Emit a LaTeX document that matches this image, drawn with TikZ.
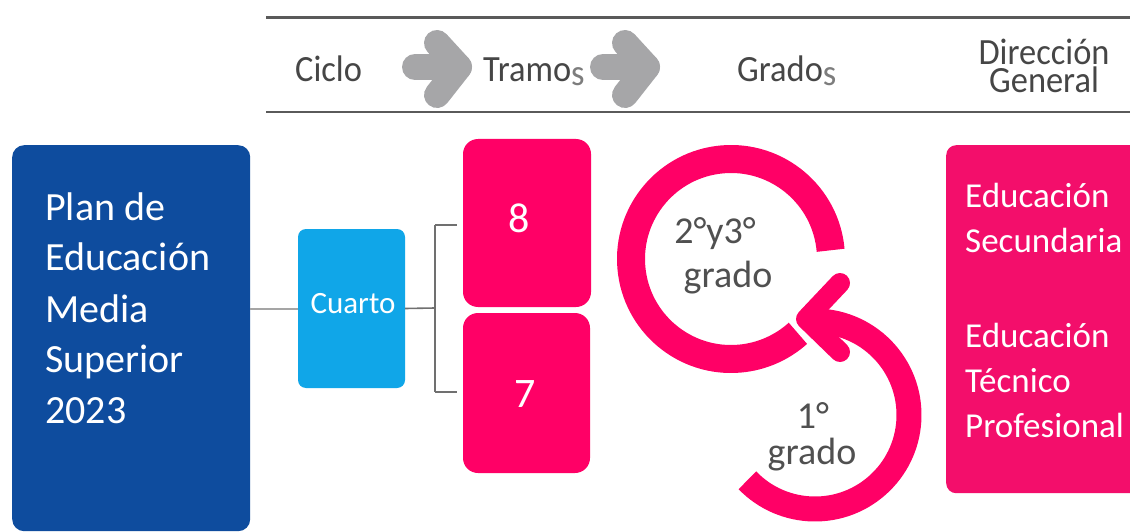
\documentclass[tikz,border=0pt]{standalone}
\usepackage{fontspec}
\usepackage{graphicx}
\setmainfont{Carlito}
\definecolor{navy}{RGB}{14,76,158}
\definecolor{sky}{RGB}{16,166,232}
\definecolor{pinkm}{RGB}{255,0,102}
\definecolor{pinkr}{RGB}{243,14,107}
\definecolor{arrgray}{RGB}{166,166,168}
\definecolor{hdrtxt}{RGB}{70,70,70}
\definecolor{hdrlight}{RGB}{125,125,125}
\definecolor{ringtxt}{RGB}{80,80,80}
\definecolor{rulegray}{RGB}{90,90,90}
\definecolor{linkgray}{RGB}{112,112,112}
\definecolor{linklight}{RGB}{165,165,165}
\newcommand{\hx}[1]{\scalebox{0.93}[1]{#1}}
\begin{document}
\begin{tikzpicture}[x=1pt,y=-1pt,
  hrule/.style={rulegray, line width=2.5pt},
  harrow/.style={arrgray, line width=26pt, line cap=round, line join=round},
  hdr/.style={hdrtxt, inner sep=0pt, font=\fontsize{37}{40}\selectfont},
  boxnode/.style={inner sep=0pt, draw=none},
  wtext/.style={white, inner sep=0pt},
  ringtext/.style={ringtxt, inner sep=0pt, font=\fontsize{38}{42}\selectfont},
  ring/.style={pinkm},
  link/.style={linkgray, line width=1.6pt},
]
\useasboundingbox (0,0) rectangle (1130,532);
\clip (0,0) rectangle (1130,532);
\fill[white] (0,0) rectangle (1130,532);

% header rules
\draw[hrule] (266,17.5) -- (1130,17.5);
\draw[hrule] (266,112) -- (1130,112);

% header texts
\node[hdr, anchor=base west] (ciclo) at (295,82) {\hx{Ciclo}};
\node[hdr, anchor=base west] (tramos) at (483,82) {\hx{Tramo\raisebox{-4pt}{\color{hdrlight}s}}};
\node[hdr, anchor=base west] (grados) at (737,82) {\hx{Grado\raisebox{-4pt}{\color{hdrlight}s}}};
\node[hdr, anchor=south, align=center, font=\fontsize{37}{28}\selectfont] (direccion) at (1044,93) {\hx{Dirección}\\\hx{General}};

% header arrows
\draw[harrow] (415,67) -- (459,67);
\draw[harrow] (437,43) -- (459,67) -- (437,95);
\draw[harrow] (603,67) -- (647,67);
\draw[harrow] (625,43) -- (647,67) -- (625,95);

% left box
\node[boxnode, fill=navy, rounded corners=12pt, anchor=north west,
      minimum width=238pt, minimum height=386pt] (plan) at (12,145) {};
\node[wtext, anchor=base west, font=\fontsize{40}{48}\selectfont] (p1) at (45,220) {Plan de};
\node[wtext, anchor=base west, font=\fontsize{40}{48}\selectfont] (p2) at (45,270) {Educación};
\node[wtext, anchor=base west, font=\fontsize{40}{48}\selectfont] (p3) at (45,322) {Media};
\node[wtext, anchor=base west, font=\fontsize{40}{48}\selectfont] (p4) at (45,372) {Superior};
\node[wtext, anchor=base west, font=\fontsize{40}{48}\selectfont] (p5) at (45,423) {2023};

% cuarto box
\node[boxnode, fill=sky, rounded corners=8pt,
      minimum width=107pt, minimum height=159pt] (cuarto) at (351.5,308.5) {};
\node[wtext, anchor=base, font=\fontsize{31}{36}\selectfont] (cuartot) at (353,313) {Cuarto};

% tramos boxes
\node[boxnode, fill=pinkm, rounded corners=15pt,
      minimum width=128pt, minimum height=168pt] (box8) at (527,223) {};
\node[boxnode, fill=pinkm, rounded corners=15pt,
      minimum width=127pt, minimum height=160pt] (box7) at (526.5,393) {};
\node[wtext, anchor=base, font=\fontsize{42}{46}\selectfont] (n8) at (519,232) {8};
\node[wtext, anchor=base, font=\fontsize{42}{46}\selectfont] (n7) at (525,407) {7};

% connectors
\draw[linklight, line width=2pt] (plan.east |- cuarto.west) -- (cuarto.west);
\coordinate (bj) at (435,308);
\coordinate (bt) at (435,225);
\coordinate (bb) at (435,392);
\draw[link] (cuarto.east) -- (bj);
\draw[link, shorten >=6pt] (bt) -- (box8.west |- bt);
\draw[link] (bt) -- (bb);
\draw[link, shorten >=6pt] (bb) -- (box7.west |- bb);

% rings
\draw[ring, line width=28pt] (731,259) ++(-5:100) arc[start angle=-5, end angle=-312, radius=100];
\draw[ring, line width=25pt] (815,415) ++(136:94) arc[start angle=136, end angle=-92, radius=94];
\draw[ring, line width=20pt, line cap=round, line join=round] (840,283) -- (806,319) -- (840,352);

\node[ringtext, anchor=base] (t23) at (715,243) {2°y3°};
\node[ringtext, anchor=base] (g23) at (728,287) {grado};
\node[ringtext, anchor=base] (t1) at (813,428) {1°};
\node[ringtext, anchor=base] (g1) at (812,464) {grado};

% right box
\node[boxnode, fill=pinkr, rounded corners=10pt, anchor=north west,
      minimum width=220pt, minimum height=348pt] (dg) at (946,145) {};
\node[wtext, anchor=base west, font=\fontsize{35}{42}\selectfont] (r1) at (965,207) {Educación};
\node[wtext, anchor=base west, font=\fontsize{35}{42}\selectfont] (r2) at (965,252) {Secundaria};
\node[wtext, anchor=base west, font=\fontsize{35}{42}\selectfont] (r3) at (965,347) {Educación};
\node[wtext, anchor=base west, font=\fontsize{35}{42}\selectfont] (r4) at (965,392) {Técnico};
\node[wtext, anchor=base west, font=\fontsize{35}{42}\selectfont] (r5) at (965,437) {Profesional};
\end{tikzpicture}
\end{document}
